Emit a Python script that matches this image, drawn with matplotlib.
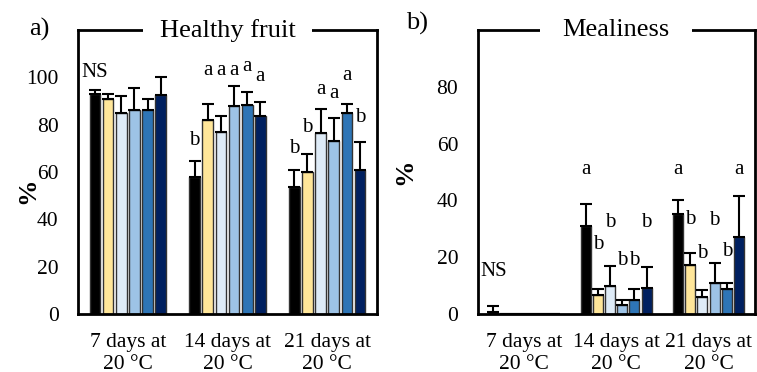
import matplotlib
matplotlib.use('Agg')
import matplotlib.pyplot as plt
import numpy as np

plt.rcParams['font.family'] = ['Liberation Serif', 'DejaVu Serif']

# categories and treatments
groups = ['7 days at\n20 °C', '14 days at\n20 °C', '21 days at\n20 °C']
colors = ['#000000', '#FFE699', '#DEEBF7', '#9DC3E6', '#2E75B6', '#002060']

# a) healthy fruit (%), one row per treatment, columns = storage time
healthy = [[93.0, 58.0, 53.5],
           [91.0, 82.1, 60.1],
           [85.1, 76.9, 76.3],
           [86.1, 87.9, 73.2],
           [86.1, 88.2, 85.1],
           [92.4, 83.8, 60.8]]
healthy_err = [[1.9, 6.6, 7.3],
               [2.0, 6.8, 7.6],
               [7.0, 6.6, 10.3],
               [9.4, 8.6, 9.5],
               [4.9, 5.5, 3.6],
               [7.6, 5.8, 11.9]]
# significance letters: (text, y value) per treatment/time
healthy_let = [[('NS', 102), ('b', 73.5), ('b', 70)],
               [('', 0), ('a', 103), ('b', 79)],
               [('', 0), ('a', 103), ('a', 95)],
               [('', 0), ('a', 103), ('a', 93)],
               [('', 0), ('a', 104.5), ('a', 101)],
               [('', 0), ('a', 100.5), ('b', 83)]]

# b) mealiness (%)
mealy = [[0.8, 31.1, 35.1],
         [0.0, 6.8, 17.2],
         [0.0, 9.9, 6.1],
         [0.0, 3.1, 10.8],
         [0.0, 4.9, 8.9],
         [0.0, 9.2, 27.1]]
mealy_err = [[2.1, 7.5, 5.0],
             [0.0, 1.9, 4.2],
             [0.0, 7.0, 2.3],
             [0.0, 1.8, 7.0],
             [0.0, 3.8, 2.0],
             [0.0, 7.2, 14.5]]
mealy_let = [[('NS', 15), ('a', 51), ('a', 51)],
             [('', 0), ('b', 24.6), ('b', 33.2)],
             [('', 0), ('b', 32.2), ('b', 21.4)],
             [('', 0), ('b', 19), ('b', 33)],
             [('', 0), ('b', 19), ('b', 22)],
             [('', 0), ('b', 32.2), ('a', 51)]]

fig = plt.figure(figsize=(7.57, 3.72), dpi=100)
ax1 = fig.add_axes([0.103, 0.156, 0.395, 0.763])
ax2 = fig.add_axes([0.631, 0.156, 0.366, 0.763])

x = np.arange(len(groups))
pitch = 0.132
width = 0.108


def draw(ax, vals, errs, lets, ymax, ticks, title, tpad, tag, tagx, tagy, labx, laby):
    for i, c in enumerate(colors):
        pos = x + (i - 2.5) * pitch
        v = np.array(vals[i])
        e = np.array(errs[i])
        ax.bar(pos, v, width, color=c, edgecolor='#333333', linewidth=1, zorder=2)
        ax.errorbar(pos, v, yerr=[np.zeros_like(e), e], fmt='none', ecolor='black',
                    elinewidth=1.5, capsize=4, capthick=1.5, zorder=3)
        for j, (t, yv) in enumerate(lets[i]):
            if t:
                ax.text(pos[j], yv, t, ha='center', va='center', fontsize=15)
    ax.set_xlim(-0.5, 2.5)
    ax.set_ylim(0, ymax)
    ax.set_yticks(ticks)
    ax.set_xticks(x)
    ax.set_xticklabels(groups, fontsize=14.5, linespacing=1.15)
    ax.tick_params(axis='both', length=0, labelsize=15.5)
    ax.tick_params(axis='y', pad=14)
    ax.tick_params(axis='x', pad=14)
    for s in ax.spines.values():
        s.set_linewidth(2)
    ax.set_ylabel('%', fontsize=19, fontweight='bold')
    ax.yaxis.set_label_coords(labx, laby)
    ax.text(0.5, 1.0, title, transform=ax.transAxes, ha='center', va='center',
            fontsize=19, zorder=10, clip_on=False,
            bbox=dict(fc='white', ec='none', pad=tpad))
    fig.text(tagx, tagy, tag, fontsize=19, ha='left', va='center')


draw(ax1, healthy, healthy_err, healthy_let, 120, range(0, 101, 20),
     'Healthy fruit', 12, 'a)', 0.038, 0.92, -0.13, 0.433)
draw(ax2, mealy, mealy_err, mealy_let, 100, range(0, 81, 20),
     'Mealiness', 16, 'b)', 0.536, 0.938, -0.22, 0.50)

fig.savefig('out.png', dpi=100)
